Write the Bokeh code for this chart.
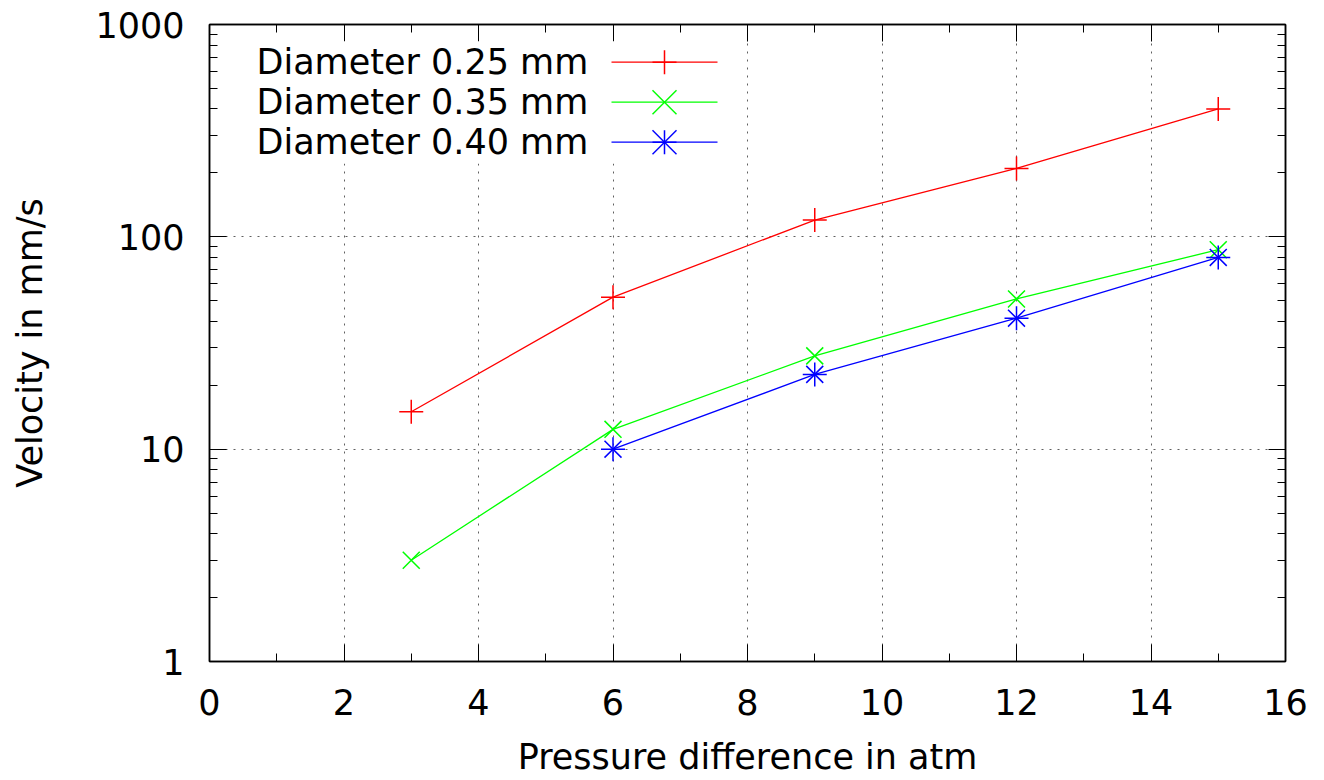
from bokeh.plotting import figure
from bokeh.models import (LinearAxis, LogAxis, SingleIntervalTicker, LogTicker,
                          PrintfTickFormatter, CustomJSTickFormatter, Range1d,
                          Label, Arrow, BoxAnnotation)
from bokeh.embed import file_html
from bokeh.resources import INLINE

# Measured velocities (mm/s) against pressure difference (atm)
pressure_025 = [3, 6, 9, 12, 15]
velocity_025 = [15, 52, 120, 210, 400]

pressure_035 = [3, 6, 9, 12, 15]
velocity_035 = [3.0, 12.4, 27.5, 51, 87]

pressure_040 = [6, 9, 12, 15]
velocity_040 = [10, 22.5, 41.4, 80]

series_labels = ["Diameter 0.25 mm", "Diameter 0.35 mm", "Diameter 0.40 mm"]
series_colors = ["#ff0000", "#00ff00", "#0000ff"]

x_label = "Pressure difference in atm"
y_label = "Velocity in mm/s"

FONT = "DejaVu Sans"
FS = "35px"

W, H = 1324, 780
LEFT, RIGHT, TOP, BOTTOM = 209, 39, 24, 119

p = figure(width=W, height=H, output_backend="svg", toolbar_location=None,
           x_range=Range1d(0, 16), y_range=Range1d(1, 1000), y_axis_type="log",
           min_border_left=LEFT, min_border_right=RIGHT,
           min_border_top=TOP, min_border_bottom=BOTTOM,
           x_axis_label=x_label, y_axis_label=y_label)
p.background_fill_color = "white"
p.border_fill_color = "white"
p.outline_line_color = "black"
p.outline_line_width = 1.5

x_ticker = SingleIntervalTicker(interval=2, num_minor_ticks=2)
y_ticker = LogTicker(mantissas=[1], num_minor_ticks=10)


def style_axis(ax):
    ax.axis_line_color = "black"
    ax.axis_line_width = 1.5
    ax.major_tick_in = 17
    ax.major_tick_out = 0
    ax.minor_tick_in = 8
    ax.minor_tick_out = 0
    ax.major_tick_line_color = "black"
    ax.minor_tick_line_color = "black"
    ax.major_tick_line_width = 1
    ax.minor_tick_line_width = 1
    ax.major_label_text_font = FONT
    ax.major_label_text_font_size = FS
    ax.major_label_text_color = "black"
    ax.axis_label_text_font = FONT
    ax.axis_label_text_font_size = FS
    ax.axis_label_text_font_style = "normal"
    ax.axis_label_text_color = "black"


xa = p.xaxis[0]
xa.ticker = x_ticker
style_axis(xa)
xa.major_label_standoff = 27
xa.axis_label_standoff = 19

ya = p.yaxis[0]
ya.ticker = y_ticker
ya.formatter = PrintfTickFormatter(format="%d")
style_axis(ya)
ya.major_label_standoff = 25
ya.axis_label_standoff = 42

blank = CustomJSTickFormatter(code="return ''")
top_axis = LinearAxis(ticker=x_ticker, formatter=blank)
style_axis(top_axis)
top_axis.major_label_standoff = 0
p.add_layout(top_axis, "above")

right_axis = LogAxis(ticker=y_ticker, formatter=blank)
style_axis(right_axis)
right_axis.major_label_standoff = 0
p.add_layout(right_axis, "right")

for g in (p.xgrid[0], p.ygrid[0]):
    g.grid_line_color = "#606060"
    g.grid_line_width = 1
    g.grid_line_dash = "2 6"
p.xgrid[0].ticker = x_ticker
p.ygrid[0].ticker = y_ticker

MS = 24
LW = 1.3
MLW = 1.5

# Data curves
p.line(pressure_025, velocity_025, line_color=series_colors[0], line_width=LW)
p.scatter(pressure_025, velocity_025, marker="cross", size=MS,
          line_color=series_colors[0], line_width=MLW)

p.line(pressure_035, velocity_035, line_color=series_colors[1], line_width=LW)
p.scatter(pressure_035, velocity_035, marker="x", size=MS,
          line_color=series_colors[1], line_width=MLW)

p.line(pressure_040, velocity_040, line_color=series_colors[2], line_width=LW)
p.scatter(pressure_040, velocity_040, marker="cross", size=MS,
          line_color=series_colors[2], line_width=MLW)
p.scatter(pressure_040, velocity_040, marker="x", size=MS,
          line_color=series_colors[2], line_width=MLW)

# Screen helpers: canvas pixel -> frame-relative screen units
FRAME_BOTTOM = H - BOTTOM


def sx(px):
    return px - LEFT


def sy(py):
    return FRAME_BOTTOM - py


# Key in the upper left corner: text first, then the line sample with its marker
key_box = BoxAnnotation(left=sx(250), right=sx(726), top=sy(41), bottom=sy(163),
                        left_units="screen", right_units="screen",
                        top_units="screen", bottom_units="screen",
                        fill_color="white", fill_alpha=1.0, line_color=None)
p.add_layout(key_box)

row_y = [61.7, 101.7, 141.7]
text_x = 256
sample_x0, sample_x1, mark_x = 611, 717, 664
half = MS / 2

cross_strokes = [(-half, 0, half, 0), (0, -half, 0, half)]
x_strokes = [(-half, -half, half, half), (-half, half, half, -half)]
marker_strokes = [cross_strokes, x_strokes, cross_strokes + x_strokes]


def seg(x0, y0, x1, y1, color, width):
    return Arrow(x_start=sx(x0), y_start=sy(y0), x_end=sx(x1), y_end=sy(y1),
                 start_units="screen", end_units="screen", end=None,
                 line_color=color, line_width=width)


for label, color, ry, strokes in zip(series_labels, series_colors, row_y, marker_strokes):
    p.add_layout(Label(x=sx(text_x), y=sy(ry), x_units="screen", y_units="screen",
                       text=label, text_font=FONT, text_font_size=FS,
                       text_color="black", text_baseline="middle", text_align="left"))
    p.add_layout(seg(sample_x0, ry, sample_x1, ry, color, LW))
    for dx0, dy0, dx1, dy1 in strokes:
        p.add_layout(seg(mark_x + dx0, ry + dy0, mark_x + dx1, ry + dy1, color, MLW))

open("out.html", "w").write(file_html(p, INLINE))
